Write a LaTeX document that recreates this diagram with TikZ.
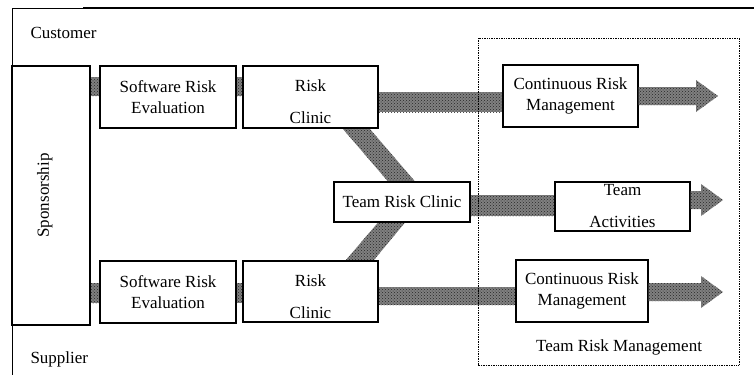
\documentclass[tikz,border=0pt]{standalone}
\usepackage{fontspec}
\setmainfont{Liberation Serif}
\usetikzlibrary{patterns,calc,backgrounds}

\begin{document}
\begin{tikzpicture}[x=1pt,y=-1pt,
  box/.style={draw,line width=1.1pt,fill=white,align=center,inner sep=2pt,font=\fontsize{17}{21}\selectfont},
  lbl/.style={font=\fontsize{17}{21}\selectfont},
  band/.style={fill=black!50,postaction={pattern=crosshatch dots,pattern color=black!85}}]
\useasboundingbox (0,0) rectangle (754,375);

% Frame
\draw[line width=0.6pt] (83,8) -- (12,8) -- (12,375);
\draw[line width=1.4pt] (83,8) -- (754,8);
\node[lbl,anchor=west] (cust) at (27,33) {Customer};
\node[lbl,anchor=west] (supp) at (27,359) {Supplier};

% Team risk management area
\draw[densely dotted,line width=0.7pt] (478,38) rectangle (739,365);
\node[lbl] (trm) at (619,347) {Team Risk Management};

% Boxes
\node[box,rotate=90,minimum width=259,minimum height=78] (spon) at (51,195.5) {\rule[-16pt]{0pt}{1pt}Sponsorship};
\node[box,minimum width=136,minimum height=62] (sre1) at (168,97) {Software Risk\\Evaluation};
\node[box,minimum width=135,minimum height=62] (rc1) at (310.5,97) {\rule{0pt}{22pt}Risk\\[11pt]Clinic};
\node[box,minimum width=135,minimum height=62] (crm1) at (570.5,96) {Continuous Risk\\Management};
\node[box,minimum width=136,minimum height=40] (trc) at (402,202) {Team Risk Clinic};
\node[box,minimum width=135,minimum height=49] (ta) at (622.5,206.5) {Team\\[11pt]Activities};
\node[box,minimum width=136,minimum height=62] (sre2) at (168,292) {Software Risk\\Evaluation};
\node[box,minimum width=135,minimum height=61] (rc2) at (310.5,291.5) {\rule{0pt}{22pt}Risk\\[11pt]Clinic};
\node[box,minimum width=132,minimum height=62] (crm2) at (582,291) {Continuous Risk\\Management};

% Arrow tips
\coordinate (out1) at (718,96);
\coordinate (out2) at (723,200);
\coordinate (out3) at (723,292);

\begin{scope}[on background layer]
% Short links
\path[band] ($(spon.south |- sre1.west)+(0,-20)$) rectangle ($(sre1.west)+(0,-1)$);
\path[band] ($(sre1.east)+(0,-20)$) rectangle ($(rc1.west)+(0,-1)$);
\path[band] ($(spon.south |- sre2.west)+(0,-9)$) rectangle ($(sre2.west)+(0,11)$);
\path[band] ($(sre2.east)+(0,-9)$) rectangle ($(rc2.west)+(0,11)$);

% Wide links
\path[band] ($(rc1.east)+(0,-5)$) rectangle ($(crm1.west |- rc1.east)+(0,15)$);
\path[band] ($(trc.east)+(0,-7)$) rectangle ($(ta.west |- trc.east)+(0,14)$);
\path[band] ($(rc2.east)+(0,-4.5)$) rectangle ($(crm2.west |- rc2.east)+(0,13.5)$);

% Diagonal links
\path[band] ($(rc1.south east)+(-36,0)$) -- ($(rc1.south east)+(-9,0)$)
  -- ($(trc.north)+(13,0)$) -- ($(trc.north)+(-14,0)$) -- cycle;
\path[band] ($(trc.south)+(-24,0)$) -- ($(trc.south)+(3,0)$)
  -- ($(rc2.north east)+(-5,0)$) -- ($(rc2.north east)+(-33,0)$) -- cycle;
\end{scope}

% Outgoing arrows
\foreach \a/\t in {crm1/out1,ta/out2,crm2/out3} {
\path[band] ($(\a.east |- \t)+(0,-9)$) -- ($(\t)+(-22,-9)$) -- ($(\t)+(-22,-16)$)
  -- (\t) -- ($(\t)+(-22,16)$) -- ($(\t)+(-22,9)$) -- ($(\a.east |- \t)+(0,9)$) -- cycle;
}
\end{tikzpicture}
\end{document}
